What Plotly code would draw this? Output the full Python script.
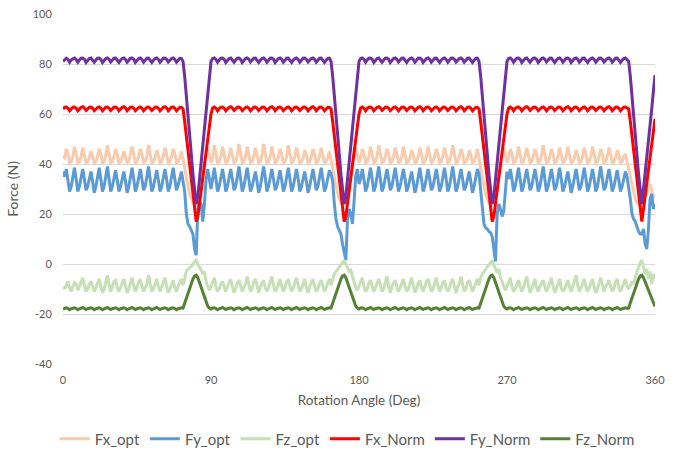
import plotly.graph_objects as go

# Rotation angle, 1-degree steps 0..360
angle = list(range(0, 361))

fx_opt = [
43, 42.5, 46, 44, 40.5, 41, 43, 47, 44, 40.5,
41, 43, 46.5, 44, 40.5, 41, 42.5, 45, 43, 40.5,
41, 43, 46, 44, 40.5, 41, 43.5, 47.5, 44, 40.5,
41, 43, 46, 44, 40.5, 41, 42.5, 45, 43, 40.5,
41, 43.5, 47, 44, 40.5, 41, 43, 46, 44, 40.5,
41, 43, 47.5, 44, 40.5, 41, 42.5, 45.5, 43.5, 40.5,
41, 43, 46.5, 44, 40.5, 41, 43, 46, 44, 40.5,
41, 42.5, 45, 42, 38, 35, 31, 28, 26, 24.5,
24, 24, 25, 27, 30, 35, 40, 44, 46.5, 44,
40.5, 42.5, 47.5, 44, 40.5, 41, 43, 47, 44, 40.5,
41, 43, 46.5, 44, 40.5, 41, 43.5, 48, 44.5, 40.5,
41, 43, 47, 44, 40.5, 41, 43, 46.5, 44, 40.5,
41, 43.5, 48, 44.5, 40.5, 41, 43, 47, 44, 40.5,
41, 43, 46, 44, 40.5, 41, 43, 47.5, 44, 40.5,
41, 43, 46.5, 44, 40.5, 41, 42.5, 45.5, 43.5, 40.5,
41, 43, 46, 44, 40.5, 41, 43, 46.5, 44, 40.5,
41, 42.5, 45, 42, 38, 35, 31, 28, 26, 24.5,
24, 24, 25, 27, 30, 35, 40, 44, 46.5, 44,
40.5, 42.5, 46, 44, 40.5, 41, 43, 47, 44, 40.5,
41, 43.5, 47.5, 44, 40.5, 41, 43, 46, 44, 40.5,
41, 43, 46.5, 44, 40.5, 41, 43, 47, 44, 40.5,
41, 42.5, 45.5, 43.5, 40.5, 41, 43, 46.5, 44, 40.5,
41, 43, 47, 44, 40.5, 41, 43, 46, 44, 40.5,
41, 43, 46.5, 44, 40.5, 41, 43.5, 47.5, 44, 40.5,
41, 43, 46, 44, 40.5, 41, 42.5, 45.5, 43.5, 40.5,
41, 43, 46, 42, 38, 35, 31, 28, 26, 24.5,
24, 24, 25, 27, 30, 35, 40, 44, 46.5, 44,
40.5, 42.5, 46, 44, 40.5, 41, 43, 47, 44, 40.5,
41, 43, 46.5, 44, 40.5, 41, 43, 46, 44, 40.5,
41, 43.5, 47.5, 44, 40.5, 41, 43, 46, 44, 40.5,
41, 43, 46.5, 44, 40.5, 41, 43, 47, 44, 40.5,
41, 42.5, 45.5, 43.5, 40.5, 41, 43, 46.5, 44, 40.5,
41, 43, 47, 44, 40.5, 41, 43, 46, 44, 40.5,
41, 43, 46.5, 44, 40.5, 41, 42.5, 45.5, 43.5, 40.5,
41, 43, 44, 41, 38, 35, 31, 28, 26, 24.5,
24, 23.5, 24, 25, 27, 28, 31, 32, 29, 27,
27,
]

fy_opt = [
37, 35, 38, 33.5, 29, 31, 35, 38.5, 34, 29,
31, 35, 38, 34, 29.5, 31, 34.5, 37, 33, 28.5,
31, 35, 38.5, 34, 29, 31, 35.5, 39, 34, 29,
31, 35, 37.5, 33.5, 29, 31, 34.5, 37, 33, 28.5,
31, 35, 38.5, 34, 29, 31, 35, 38, 34, 29.5,
31, 35.5, 39, 34, 29, 31, 34.5, 37.5, 33.5, 29,
31, 35, 38, 34, 29, 31, 35, 38.5, 34, 29.5,
31.5, 34.5, 37, 33, 29, 20, 16, 15, 13.5, 12,
6, 3.5, 22, 25, 24, 17, 24, 34, 38, 33,
30, 34, 38.5, 34, 29, 31, 35, 38, 34, 29,
31, 35, 38, 34, 29.5, 31, 35.5, 39, 34, 29,
31, 35, 38.5, 34, 29, 31, 34.5, 37, 33, 28.5,
31, 35.5, 39, 34.5, 29, 31, 35, 38, 34, 29.5,
31, 35, 37.5, 33.5, 29, 31, 35, 38.5, 34, 29,
31, 35, 38, 34, 29, 31, 34.5, 37, 33, 28.5,
31, 35, 38, 34, 29.5, 31, 35, 38.5, 34, 29,
31, 34.5, 37.5, 36, 33, 24, 18, 15, 13.5, 12,
8, 5, 1.5, 18, 22, 20, 16, 25, 35, 38,
32, 34, 38, 34, 29, 31, 35, 38.5, 34, 29,
31, 35.5, 39, 34, 29, 31, 35, 38, 34, 29.5,
31, 35, 38.5, 34, 29, 31, 35, 38, 34, 29,
31, 34.5, 37, 33, 28.5, 31, 35, 38.5, 34, 29,
31, 35, 38, 34, 29.5, 31, 35, 38, 34, 29,
31, 35, 38.5, 34, 29, 31, 35.5, 39, 34, 29,
31, 35, 38, 34, 29.5, 31, 34.5, 37, 33, 28.5,
31, 35, 38, 36, 30, 22, 16, 14.5, 14, 13,
12.5, 11, 6, 1, 20, 24, 22, 19, 21, 31,
37, 34, 38, 34, 29, 31, 35, 38.5, 34, 29,
31, 35, 38, 34, 29.5, 31, 35, 38, 34, 29,
31, 35.5, 39, 34, 29, 31, 35, 38, 34, 29.5,
31, 35, 38.5, 34, 29, 31, 34.5, 37, 33, 28.5,
31, 35, 38, 34, 29.5, 31, 35, 38.5, 34, 29,
31, 35, 38, 34, 29, 31, 35.5, 39, 34, 29.5,
31, 35, 38, 34, 29, 31, 34.5, 37.5, 33.5, 29,
31, 34.5, 37, 35, 31, 26, 20, 18, 17, 15,
13, 12, 12, 14, 8, 6, 14, 26, 28, 22,
24,
]

fz_opt = [
-9, -10, -8.5, -7, -9.5, -11, -9, -7.5, -8, -10.5,
-9, -7, -5.5, -8.5, -11, -10, -8, -7, -9, -11,
-9.5, -7.5, -6, -9, -11.5, -10, -7.5, -4.5, -8.5, -11,
-9, -7, -6.5, -9.5, -11, -9.5, -7.5, -6, -9, -11.5,
-10, -7.5, -5.5, -8.5, -11, -9.5, -7, -6.5, -9, -11,
-9.5, -8, -4.5, -8, -11, -10, -7.5, -6, -9, -11,
-9, -7, -5.5, -9, -11.5, -10, -8, -6.5, -9.5, -11,
-9, -7.5, -6, -8.5, -5, -3, -2, -1.5, -1, 0,
1, 2, 0, -1, -2.5, -4, -3, -7, -9, -10.5,
-9, -7, -5.5, -9, -11, -10, -8, -7, -9.5, -11,
-9, -7.5, -6, -9, -11.5, -10, -7.5, -6.5, -9, -11,
-9.5, -8, -5, -8.5, -11, -10, -7, -6, -9, -11.5,
-9, -7.5, -6.5, -9.5, -11, -9.5, -7.5, -5, -8.5, -11,
-10, -8, -6, -9, -11, -9.5, -7, -6.5, -9, -11,
-9.5, -7.5, -5.5, -8.5, -11, -10, -8, -6, -9.5, -11.5,
-9, -7.5, -6, -9, -11, -10, -7.5, -6.5, -9, -11,
-9.5, -8, -6, -8.5, -6, -4, -3, -2, -1.5, -0.5,
0.5, 1.5, 0, -1.5, -3, -2.5, -5, -7, -9.5, -10.5,
-9, -7, -5.5, -9, -11, -10, -7.5, -6.5, -9, -11,
-9.5, -8, -6, -8.5, -11, -10, -7, -5, -9, -11.5,
-9, -7.5, -6.5, -9, -11, -9.5, -8, -6, -9, -11,
-10, -7.5, -5.5, -8.5, -11.5, -10, -7.5, -6.5, -9.5, -11,
-9, -7, -6, -9, -11, -10, -8, -5.5, -8.5, -11,
-9.5, -7.5, -6.5, -9.5, -11, -9.5, -7, -6, -9, -11.5,
-9, -8, -5, -8.5, -11, -10, -7.5, -6.5, -9, -11,
-9.5, -7.5, -6, -8.5, -5.5, -4, -3, -2, -1, 0,
1, 1.5, -0.5, -2, -3.5, -2, -5.5, -7, -9, -10.5,
-9, -7, -5.5, -9, -11, -10, -8, -6.5, -9, -11,
-9.5, -7.5, -5, -8.5, -11.5, -10, -7.5, -6, -9.5, -11,
-9, -8, -6.5, -9, -11, -9.5, -7, -5.5, -9, -11.5,
-10, -7.5, -6, -9.5, -11, -10, -8, -6.5, -9, -11,
-9, -7, -4.5, -8.5, -11, -9.5, -7.5, -6, -9, -11,
-9.5, -8, -6, -9, -11.5, -10, -7.5, -5.5, -8.5, -11,
-9, -7.5, -6.5, -9, -11, -10, -7, -6, -9.5, -11,
-9.5, -8, -6, -9, -10, -8.5, -7, -8, -5, -3,
-1.5, 0.5, 1.5, -1, -4, -2, -6, -3, -8, -4,
-6,
]

fx_norm = [
62.0, 62.7, 62.8, 62.3, 61.3, 62.2, 62.7, 62.8, 62.3, 61.3,
62.2, 62.7, 62.9, 62.4, 61.4, 62.2, 62.7, 62.8, 62.3, 61.3,
62.2, 62.6, 62.8, 62.3, 61.3, 62.1, 62.7, 62.8, 62.3, 61.4,
62.2, 62.7, 62.8, 62.3, 61.3, 62.2, 62.7, 62.9, 62.4, 61.3,
62.2, 62.7, 62.8, 62.3, 61.3, 62.2, 62.6, 62.8, 62.3, 61.3,
62.2, 62.7, 62.8, 62.3, 61.4, 62.2, 62.7, 62.8, 62.3, 61.3,
62.2, 62.7, 62.9, 62.4, 61.3, 62.2, 62.7, 62.8, 62.3, 61.3,
62.2, 62.7, 62.6, 62.0, 57.0, 51.0, 45.0, 39.0, 33.0, 27.0,
21.0, 17.0, 19.0, 24.0, 29.0, 34.0, 40.0, 45.0, 50.0, 55.0,
60.0, 62.4, 62.8, 62.3, 61.3, 62.2, 62.7, 62.8, 62.3, 61.3,
62.2, 62.7, 62.9, 62.4, 61.4, 62.2, 62.7, 62.8, 62.3, 61.3,
62.2, 62.6, 62.8, 62.3, 61.3, 62.1, 62.7, 62.8, 62.3, 61.4,
62.2, 62.7, 62.8, 62.3, 61.3, 62.2, 62.7, 62.9, 62.4, 61.3,
62.2, 62.7, 62.8, 62.3, 61.3, 62.2, 62.6, 62.8, 62.3, 61.3,
62.2, 62.7, 62.8, 62.3, 61.4, 62.2, 62.7, 62.8, 62.3, 61.3,
62.2, 62.7, 62.9, 62.4, 61.3, 62.2, 62.7, 62.8, 62.3, 61.3,
62.2, 62.7, 62.6, 62.0, 57.0, 51.0, 45.0, 39.0, 33.0, 27.0,
21.0, 17.0, 19.0, 24.0, 29.0, 34.0, 40.0, 45.0, 50.0, 55.0,
60.0, 62.4, 62.8, 62.3, 61.3, 62.2, 62.7, 62.8, 62.3, 61.3,
62.2, 62.7, 62.9, 62.4, 61.4, 62.2, 62.7, 62.8, 62.3, 61.3,
62.2, 62.6, 62.8, 62.3, 61.3, 62.1, 62.7, 62.8, 62.3, 61.4,
62.2, 62.7, 62.8, 62.3, 61.3, 62.2, 62.7, 62.9, 62.4, 61.3,
62.2, 62.7, 62.8, 62.3, 61.3, 62.2, 62.6, 62.8, 62.3, 61.3,
62.2, 62.7, 62.8, 62.3, 61.4, 62.2, 62.7, 62.8, 62.3, 61.3,
62.2, 62.7, 62.9, 62.4, 61.3, 62.2, 62.7, 62.8, 62.3, 61.3,
62.2, 62.7, 62.6, 62.0, 57.0, 51.0, 45.0, 39.0, 33.0, 27.0,
21.0, 17.0, 19.0, 24.0, 29.0, 34.0, 40.0, 45.0, 50.0, 55.0,
60.0, 62.4, 62.8, 62.3, 61.3, 62.2, 62.7, 62.8, 62.3, 61.3,
62.2, 62.7, 62.9, 62.4, 61.4, 62.2, 62.7, 62.8, 62.3, 61.3,
62.2, 62.6, 62.8, 62.3, 61.3, 62.1, 62.7, 62.8, 62.3, 61.4,
62.2, 62.7, 62.8, 62.3, 61.3, 62.2, 62.7, 62.9, 62.4, 61.3,
62.2, 62.7, 62.8, 62.3, 61.3, 62.2, 62.6, 62.8, 62.3, 61.3,
62.2, 62.7, 62.8, 62.3, 61.4, 62.2, 62.7, 62.8, 62.3, 61.3,
62.2, 62.7, 62.9, 62.4, 61.3, 62.2, 62.7, 62.8, 62.3, 61.3,
62.2, 62.7, 62.8, 62.3, 62.0, 57.0, 51.0, 45.0, 39.0, 33.0,
27.0, 21.0, 17.0, 22.0, 27.0, 32.0, 37.0, 42.0, 47.0, 53.0,
58.0,
]

fy_norm = [
81.0, 81.8, 82.3, 81.8, 80.7, 81.6, 82.2, 82.4, 81.8, 80.7,
81.6, 82.3, 82.4, 81.9, 80.6, 81.5, 82.2, 82.4, 81.7, 80.7,
81.6, 82.3, 82.4, 81.8, 80.6, 81.4, 82.2, 82.4, 81.9, 80.8,
81.6, 82.3, 82.4, 81.7, 80.6, 81.5, 82.2, 82.4, 81.8, 80.7,
81.6, 82.3, 82.4, 81.9, 80.6, 81.5, 82.2, 82.4, 81.8, 80.7,
81.6, 82.3, 82.4, 81.7, 80.6, 81.5, 82.2, 82.4, 81.8, 80.7,
81.6, 82.3, 82.4, 81.9, 80.8, 81.5, 82.2, 82.4, 81.8, 80.7,
81.6, 82.3, 82.2, 81.0, 75.0, 68.0, 60.0, 52.0, 44.0, 36.0,
29.0, 24.0, 27.0, 34.0, 41.0, 48.0, 55.0, 62.0, 69.0, 76.0,
81.0, 82.2, 82.4, 81.8, 80.7, 81.6, 82.3, 82.4, 81.9, 80.6,
81.5, 82.2, 82.4, 81.7, 80.7, 81.6, 82.3, 82.4, 81.8, 80.6,
81.4, 82.2, 82.4, 81.9, 80.8, 81.6, 82.3, 82.4, 81.7, 80.6,
81.5, 82.2, 82.4, 81.8, 80.7, 81.6, 82.3, 82.4, 81.9, 80.6,
81.5, 82.2, 82.4, 81.8, 80.7, 81.6, 82.3, 82.4, 81.7, 80.6,
81.5, 82.2, 82.4, 81.8, 80.7, 81.6, 82.3, 82.4, 81.9, 80.8,
81.5, 82.2, 82.4, 81.8, 80.7, 81.6, 82.3, 82.4, 81.7, 80.6,
81.5, 82.2, 82.3, 81.0, 75.0, 68.0, 60.0, 52.0, 44.0, 36.0,
29.0, 24.0, 27.0, 34.0, 41.0, 48.0, 55.0, 62.0, 69.0, 76.0,
81.0, 82.2, 82.4, 81.8, 80.7, 81.6, 82.3, 82.4, 81.9, 80.6,
81.5, 82.2, 82.4, 81.7, 80.7, 81.6, 82.3, 82.4, 81.8, 80.6,
81.4, 82.2, 82.4, 81.9, 80.8, 81.6, 82.3, 82.4, 81.7, 80.6,
81.5, 82.2, 82.4, 81.8, 80.7, 81.6, 82.3, 82.4, 81.9, 80.6,
81.5, 82.2, 82.4, 81.8, 80.7, 81.6, 82.3, 82.4, 81.7, 80.6,
81.5, 82.2, 82.4, 81.8, 80.7, 81.6, 82.3, 82.4, 81.9, 80.8,
81.5, 82.2, 82.4, 81.8, 80.7, 81.6, 82.3, 82.4, 81.7, 80.6,
81.5, 82.2, 82.3, 81.0, 75.0, 68.0, 60.0, 52.0, 44.0, 36.0,
29.0, 24.0, 27.0, 34.0, 41.0, 48.0, 55.0, 62.0, 69.0, 76.0,
81.0, 82.2, 82.4, 81.8, 80.7, 81.6, 82.3, 82.4, 81.9, 80.6,
81.5, 82.2, 82.4, 81.7, 80.7, 81.6, 82.3, 82.4, 81.8, 80.6,
81.4, 82.2, 82.4, 81.9, 80.8, 81.6, 82.3, 82.4, 81.7, 80.6,
81.5, 82.2, 82.4, 81.8, 80.7, 81.6, 82.3, 82.4, 81.9, 80.6,
81.5, 82.2, 82.4, 81.8, 80.7, 81.6, 82.3, 82.4, 81.7, 80.6,
81.5, 82.2, 82.4, 81.8, 80.7, 81.6, 82.3, 82.4, 81.9, 80.8,
81.5, 82.2, 82.4, 81.8, 80.7, 81.6, 82.3, 82.4, 81.7, 80.6,
81.5, 82.2, 82.4, 81.8, 81.0, 75.0, 68.0, 60.0, 52.0, 44.0,
36.0, 29.0, 24.0, 30.0, 36.0, 42.0, 48.0, 55.0, 62.0, 69.0,
75.5,
]

fz_norm = [
-18.0, -17.6, -17.5, -17.8, -18.3, -17.9, -17.6, -17.5, -17.8, -18.3,
-17.9, -17.6, -17.4, -17.8, -18.2, -17.9, -17.6, -17.5, -17.8, -18.3,
-17.9, -17.7, -17.5, -17.8, -18.3, -17.9, -17.6, -17.4, -17.8, -18.2,
-17.9, -17.6, -17.5, -17.8, -18.3, -17.9, -17.6, -17.5, -17.8, -18.3,
-17.9, -17.6, -17.4, -17.8, -18.2, -17.9, -17.7, -17.5, -17.8, -18.3,
-17.9, -17.6, -17.5, -17.8, -18.3, -17.9, -17.6, -17.4, -17.8, -18.2,
-17.9, -17.6, -17.5, -17.8, -18.3, -17.9, -17.6, -17.5, -17.8, -18.3,
-17.9, -17.6, -17.5, -17.6, -15.5, -13.5, -11.5, -9.5, -7.5, -6.0,
-4.8, -4.5, -5.5, -7.3, -9.3, -11.3, -13.3, -15.2, -16.8, -17.6,
-18.0, -17.6, -17.5, -17.8, -18.3, -17.9, -17.6, -17.4, -17.8, -18.2,
-17.9, -17.6, -17.5, -17.8, -18.3, -17.9, -17.7, -17.5, -17.8, -18.3,
-17.9, -17.6, -17.4, -17.8, -18.2, -17.9, -17.6, -17.5, -17.8, -18.3,
-17.9, -17.6, -17.5, -17.8, -18.3, -17.9, -17.6, -17.4, -17.8, -18.2,
-17.9, -17.7, -17.5, -17.8, -18.3, -17.9, -17.6, -17.5, -17.8, -18.3,
-17.9, -17.6, -17.4, -17.8, -18.2, -17.9, -17.6, -17.5, -17.8, -18.3,
-17.9, -17.6, -17.5, -17.8, -18.3, -17.9, -17.6, -17.4, -17.8, -18.2,
-17.9, -17.6, -17.5, -17.6, -15.5, -13.5, -11.5, -9.5, -7.5, -6.0,
-4.8, -4.5, -5.5, -7.3, -9.3, -11.3, -13.3, -15.2, -16.8, -17.6,
-18.0, -17.6, -17.5, -17.8, -18.3, -17.9, -17.6, -17.4, -17.8, -18.2,
-17.9, -17.6, -17.5, -17.8, -18.3, -17.9, -17.7, -17.5, -17.8, -18.3,
-17.9, -17.6, -17.4, -17.8, -18.2, -17.9, -17.6, -17.5, -17.8, -18.3,
-17.9, -17.6, -17.5, -17.8, -18.3, -17.9, -17.6, -17.4, -17.8, -18.2,
-17.9, -17.7, -17.5, -17.8, -18.3, -17.9, -17.6, -17.5, -17.8, -18.3,
-17.9, -17.6, -17.4, -17.8, -18.2, -17.9, -17.6, -17.5, -17.8, -18.3,
-17.9, -17.6, -17.5, -17.8, -18.3, -17.9, -17.6, -17.4, -17.8, -18.2,
-17.9, -17.6, -17.5, -17.6, -15.5, -13.5, -11.5, -9.5, -7.5, -6.0,
-4.8, -4.5, -5.5, -7.3, -9.3, -11.3, -13.3, -15.2, -16.8, -17.6,
-18.0, -17.6, -17.5, -17.8, -18.3, -17.9, -17.6, -17.4, -17.8, -18.2,
-17.9, -17.6, -17.5, -17.8, -18.3, -17.9, -17.7, -17.5, -17.8, -18.3,
-17.9, -17.6, -17.4, -17.8, -18.2, -17.9, -17.6, -17.5, -17.8, -18.3,
-17.9, -17.6, -17.5, -17.8, -18.3, -17.9, -17.6, -17.4, -17.8, -18.2,
-17.9, -17.7, -17.5, -17.8, -18.3, -17.9, -17.6, -17.5, -17.8, -18.3,
-17.9, -17.6, -17.4, -17.8, -18.2, -17.9, -17.6, -17.5, -17.8, -18.3,
-17.9, -17.6, -17.5, -17.8, -18.3, -17.9, -17.6, -17.4, -17.8, -18.2,
-17.9, -17.6, -17.5, -17.8, -17.6, -15.5, -13.5, -11.5, -9.5, -7.5,
-6.0, -4.8, -4.5, -5.5, -7.2, -9.0, -10.8, -12.5, -14.2, -15.7,
-17.0,
]

series_names = ["Fx_opt", "Fy_opt", "Fz_opt", "Fx_Norm", "Fy_Norm", "Fz_Norm"]
series_values = [fx_opt, fy_opt, fz_opt, fx_norm, fy_norm, fz_norm]
series_colors = ["#F8CBAD", "#5B9BD5", "#C5E0B4", "#FF0000", "#7030A0", "#548235"]

for n, v in zip(series_names, series_values):
    assert len(v) == len(angle), (n, len(v))

y_ticks = [-40, -20, 0, 20, 40, 60, 80, 100]
x_ticks = [0, 90, 180, 270, 360]

fig = go.Figure()
for n, v, c in zip(series_names, series_values, series_colors):
    fig.add_trace(go.Scatter(x=angle, y=v, name=n, mode="lines",
                             line=dict(color=c, width=3)))

fig.update_layout(
    width=680, height=452,
    margin=dict(l=63, r=25, t=14, b=88, autoexpand=False),
    paper_bgcolor="white", plot_bgcolor="white",
    font=dict(family="Lato, Open Sans, sans-serif", color="#595959"),
    showlegend=True,
    legend=dict(orientation="h", x=0.48, xanchor="center",
                yref="container", y=0.029, yanchor="middle",
                font=dict(size=15, color="#595959"),
                itemwidth=30, tracegroupgap=0),
    xaxis=dict(range=[0, 360], tickvals=x_ticks, ticktext=[str(t) for t in x_ticks],
               showgrid=False, zeroline=False, showline=False,
               ticks="outside", ticklen=6, tickcolor="rgba(0,0,0,0)",
               tickfont=dict(size=11, color="#595959"),
               title=dict(text="Rotation Angle (Deg)", font=dict(size=13.5, color="#595959"),
                          standoff=10)),
    yaxis=dict(range=[-40, 100], tickvals=y_ticks, ticktext=[str(t) for t in y_ticks],
               showgrid=True, gridcolor="#D9D9D9", gridwidth=1,
               zeroline=False, showline=False,
               ticks="outside", ticklen=8, tickcolor="rgba(0,0,0,0)",
               tickfont=dict(size=11, color="#595959"),
               title=dict(text="Force (N)", font=dict(size=14, color="#595959"),
                          standoff=10)),
)

fig.write_html("out.html")
